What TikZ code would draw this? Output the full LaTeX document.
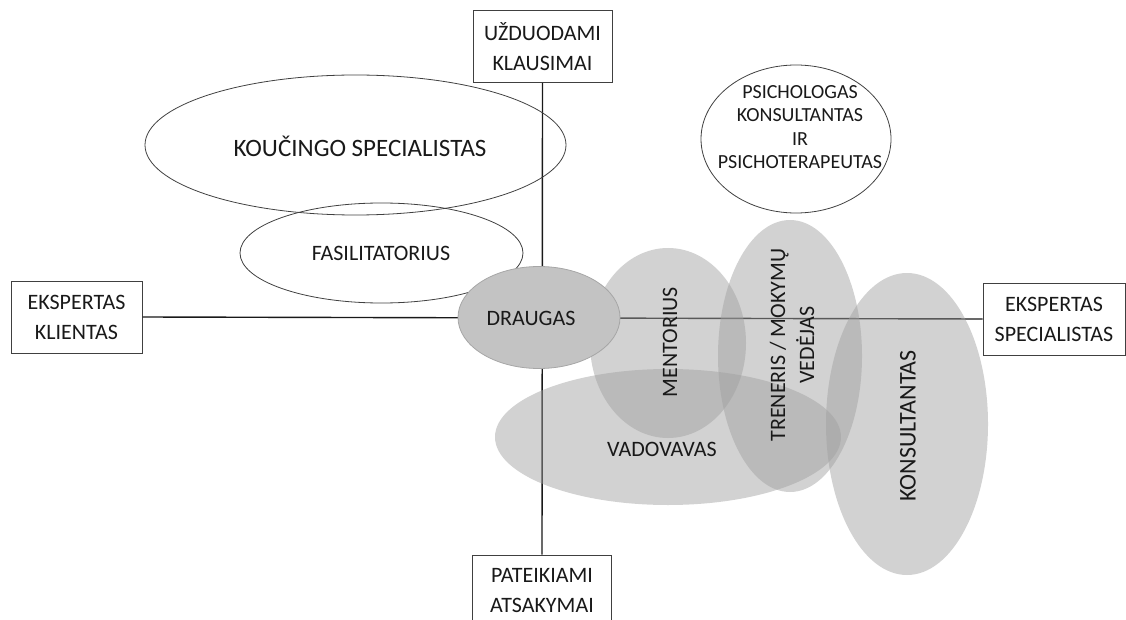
\documentclass[tikz,border=0pt]{standalone}
\usepackage{fontspec}
\setmainfont{Carlito}
\usetikzlibrary{shapes.geometric}

\definecolor{blobgray}{RGB}{160,160,160}
\definecolor{friendgray}{RGB}{195,195,195}

\tikzset{
  axisbox/.style={draw=black!75, line width=1pt, fill=white, minimum width=#1,
    minimum height=72pt, inner sep=0pt, align=center, text=black!90,
    font=\fontsize{22}{30}\selectfont},
  axisbox/.default=139pt,
  ring/.style={ellipse, draw=black!75, line width=0.8pt, inner sep=0pt},
  blob/.style={ellipse, fill=blobgray, fill opacity=0.48, inner sep=0pt},
  tag/.style={text=black!90, align=center, inner sep=0pt, font=\fontsize{22}{29}\selectfont}
}

\begin{document}
\begin{tikzpicture}[x=1pt,y=-1pt]
\useasboundingbox (0,0) rectangle (1126,620);

% Axis boxes
\node[axisbox] (klausimai) at (542.5,46.5) {UŽDUODAMI\\KLAUSIMAI};
\node[axisbox] (atsakymai) at (542,591) {PATEIKIAMI\\ATSAKYMAI};
\node[axisbox=131pt] (klientas) at (76.5,317) {EKSPERTAS\\KLIENTAS};
\node[axisbox=142pt] (specialistas) at (1054,319) {EKSPERTAS\\SPECIALISTAS};

% Axes
\draw[line width=1.4pt, black!90] (klausimai.south) -- (atsakymai.north);
\draw[line width=1.4pt, black!90] (klientas.east) -- (specialistas.west);

% Outlined roles
\node[ring, minimum width=421pt, minimum height=140pt] (koucingas) at (355.5,145) {};
\node[ring, minimum width=283pt, minimum height=100pt] (fasilitatorius) at (381.5,253) {};
\node[ring, minimum width=190pt, minimum height=148pt] (psichologas) at (796,139) {};

% Shaded roles
\node[blob, minimum width=156pt, minimum height=190pt] (mentorius) at (668,343) {};
\node[blob, minimum width=144pt, minimum height=272pt] (treneris) at (790,356) {};
\node[blob, minimum width=346pt, minimum height=136pt] (vadovavas) at (668,437) {};
\node[blob, minimum width=162pt, minimum height=302pt] (konsultantas) at (907,424) {};
\node[ellipse, draw=black!35, line width=0.8pt, fill=friendgray, inner sep=0pt,
  minimum width=162pt, minimum height=102pt] (draugas) at (539,317.5) {};

% Labels
\node[tag, font=\fontsize{25}{30}\selectfont] (koucingastxt) at (360,146) {KOUČINGO SPECIALISTAS};
\node[tag] (fasilitatoriustxt) at (381,253) {FASILITATORIUS};
\node[tag, font=\fontsize{20}{23.3}\selectfont] (psichologastxt) at (800,127)
  {PSICHOLOGAS\\KONSULTANTAS\\IR\\PSICHOTERAPEUTAS};
\node[tag] (draugastxt) at (531,318) {DRAUGAS};
\node[tag, rotate=90] (mentoriustxt) at (670,342) {MENTORIUS};
\node[tag, rotate=90] (treneristxt) at (792,345) {TRENERIS / MOKYMŲ\\VEDĖJAS};
\node[tag] (vadovavastxt) at (662,449) {VADOVAVAS};
\node[tag, rotate=90, font=\fontsize{24}{29}\selectfont] (konsultantastxt) at (908,426) {KONSULTANTAS};

\end{tikzpicture}
\end{document}
